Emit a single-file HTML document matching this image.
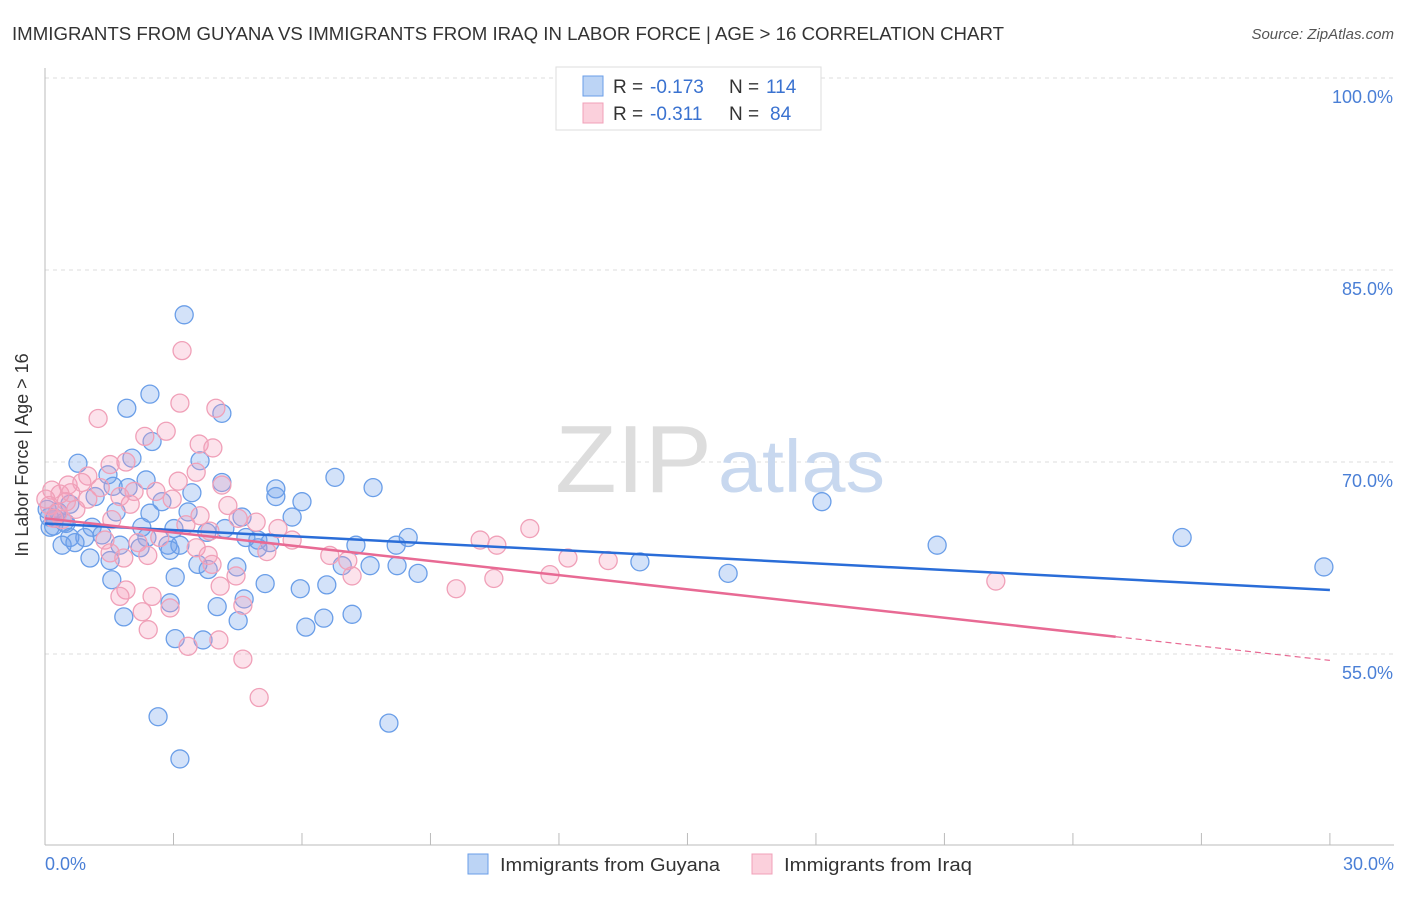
<!DOCTYPE html>
<html><head><meta charset="utf-8"><style>
body{margin:0;background:#fff;font-family:"Liberation Sans",sans-serif;}
svg text{font-family:"Liberation Sans",sans-serif;}
</style></head><body>
<svg width="1406" height="892" xmlns="http://www.w3.org/2000/svg">
<text x="12" y="40" font-size="18" fill="#333" textLength="992" lengthAdjust="spacingAndGlyphs">IMMIGRANTS FROM GUYANA VS IMMIGRANTS FROM IRAQ IN LABOR FORCE | AGE &gt; 16 CORRELATION CHART</text>
<text x="1394" y="39" font-size="15" fill="#555" font-style="italic" text-anchor="end">Source: ZipAtlas.com</text>
<g id="grid"></g>
<g id="axes"></g>
<text x="555" y="492" font-size="96" fill="#ddd" font-family="Liberation Serif" textLength="157" lengthAdjust="spacingAndGlyphs">ZIP</text>
<text x="718" y="492" font-size="74" fill="#c8d8ef" textLength="167" lengthAdjust="spacingAndGlyphs">atlas</text>
<g id="pts"></g>
<g id="trend"></g>
<text x="28" y="455" font-size="18" fill="#333" text-anchor="middle" transform="rotate(-90 28 455)">In Labor Force | Age &gt; 16</text>
<text x="45" y="870" font-size="18" fill="#4a7fd6">0.0%</text>
<text x="1394" y="870" font-size="18" fill="#4a7fd6" text-anchor="end">30.0%</text>
<g>
<rect x="556" y="67" width="265" height="63" fill="#fff" stroke="#ddd"/>
<rect x="583" y="76" width="20" height="20" fill="#bcd4f5" stroke="#6a9ee8"/>
<rect x="583" y="103" width="20" height="20" fill="#fbd0dc" stroke="#f0a0b8"/>
<text x="613" y="93" font-size="19" fill="#333">R =</text>
<text x="650" y="93" font-size="19" fill="#3a72d0">-0.173</text>
<text x="729" y="93" font-size="19" fill="#333">N =</text>
<text x="766" y="93" font-size="19" fill="#3a72d0">114</text>
<text x="613" y="120" font-size="19" fill="#333">R =</text>
<text x="650" y="120" font-size="19" fill="#3a72d0">-0.311</text>
<text x="729" y="120" font-size="19" fill="#333">N =</text>
<text x="770" y="120" font-size="19" fill="#3a72d0">84</text>
</g>
<g>
<rect x="468" y="854" width="20" height="20" fill="#bcd4f5" stroke="#6a9ee8"/>
<text x="500" y="871" font-size="18" fill="#333" textLength="220" lengthAdjust="spacingAndGlyphs">Immigrants from Guyana</text>
<rect x="752" y="854" width="20" height="20" fill="#fbd0dc" stroke="#f0a0b8"/>
<text x="784" y="871" font-size="18" fill="#333" textLength="188" lengthAdjust="spacingAndGlyphs">Immigrants from Iraq</text>
</g>
</svg>
<script>
const yTicks=[100,85,70,55];
const xTicks=[0,3,6,9,12,15,18,21,24,27,30];
const guyanaX=[3.25,2.45,1.91,4.13,2.5,0.77,3.62,2.03,1.47,2.36,4.13,6.77,7.66,5.39,3.43,1.94,1.59,1.17,5.39,6.0,2.73,18.14,0.58,1.66,3.34,5.77,4.6,2.45,0.23,0.49,1.1,2.26,4.2,3.01,3.78,0.12,1.33,0.58,0.93,2.38,4.69,4.97,5.25,8.48,0.4,0.7,1.75,2.22,2.87,3.15,7.26,8.2,26.55,20.83,4.97,2.92,1.05,1.52,3.57,13.89,6.94,7.59,8.22,8.71,3.81,4.48,15.95,29.86,3.04,1.56,5.14,6.58,5.96,4.65,2.92,4.02,1.84,7.17,6.51,4.51,6.09,3.04,3.69,2.64,8.03,3.15,0.1,0.3,0.45,0.2,0.05];
const guyanaY=[81.5,75.3,74.2,73.8,71.6,69.9,70.1,70.3,69.0,68.6,68.4,68.8,68.0,67.9,67.6,68.0,68.1,67.3,67.3,66.9,66.9,66.9,66.7,66.1,66.1,65.7,65.7,66.0,65.6,65.2,64.9,64.9,64.8,64.8,64.5,64.9,64.3,64.1,64.1,64.1,64.1,63.9,63.7,64.1,63.5,63.7,63.5,63.3,63.5,63.5,63.5,63.5,64.1,63.5,63.3,63.1,62.5,62.3,62.0,62.2,61.9,61.9,61.9,61.3,61.6,61.8,61.3,61.8,61.0,60.8,60.5,60.4,60.1,59.3,59.0,58.7,57.9,58.1,57.8,57.6,57.1,56.2,56.1,50.1,49.6,46.8,65.7,66.1,65.3,65.0,66.3];
const iraqX=[3.2,1.24,3.15,3.99,2.33,2.83,3.6,3.92,1.89,1.52,3.53,1.0,3.11,4.13,0.54,0.86,0.16,1.29,2.59,2.08,0.35,1.75,2.97,1.0,0.02,1.99,4.27,0.72,3.62,4.51,4.93,11.32,0.4,1.56,3.29,5.44,3.85,2.68,10.16,10.55,5.77,2.17,1.4,3.53,5.18,1.52,3.81,6.65,1.84,2.4,7.07,12.21,13.15,3.9,4.46,7.17,10.48,11.79,4.09,1.89,9.6,22.2,1.75,2.5,2.92,4.62,2.27,2.41,3.34,4.06,4.62,5.0,0.1,0.3,0.2,0.5,0.6];
const iraqY=[78.7,73.4,74.6,74.2,72.0,72.4,71.4,71.1,70.0,69.8,69.2,68.9,68.5,68.2,68.2,68.4,67.8,68.0,67.7,67.7,67.5,67.3,67.1,67.1,67.1,66.7,66.6,66.3,65.8,65.6,65.3,64.8,65.5,65.5,65.1,64.8,64.6,64.1,63.9,63.5,63.9,63.7,63.9,63.3,63.0,62.9,62.7,62.7,62.5,62.7,62.3,62.5,62.3,62.0,61.1,61.1,60.9,61.2,60.3,60.0,60.1,60.7,59.5,59.5,58.6,58.8,58.3,56.9,55.6,56.1,54.6,51.6,66.6,66.0,65.6,66.9,67.6];
const guyanaTrend=[65.2,60.0];
const iraqTrend=[65.6,54.5];
const iraqSolidEnd=25;
const NS="http://www.w3.org/2000/svg";
const X=v=>45+v*42.83, Y=v=>78+(100-v)*12.8;
function mk(t,a,p){const e=document.createElementNS(NS,t);for(const k in a)e.setAttribute(k,a[k]);p.appendChild(e);return e;}
const grid=document.getElementById('grid'),axes=document.getElementById('axes');
yTicks.forEach(t=>{
 const l=mk('line',{x1:45,x2:1394,y1:Y(t),y2:Y(t),stroke:'#ddd','stroke-dasharray':'4,4'},grid);
 
 
 const tx=mk('text',{x:1393,y:Y(t)+25,'font-size':18,fill:'#4a7fd6','text-anchor':'end'},grid);
 tx.textContent=t.toFixed(1)+'%';
 
 
});
mk('line',{x1:45,x2:45,y1:68,y2:845,stroke:'#bbb'},axes);
mk('line',{x1:45,x2:1394,y1:845,y2:845,stroke:'#bbb'},axes);
xTicks.forEach(t=>{
 const l=mk('line',{x1:X(t),x2:X(t),y1:833,y2:845,stroke:'#bbb'},axes);
 
 
});
const pts=document.getElementById('pts');
guyanaX.forEach((x,i)=>{
 const c=mk('circle',{cx:X(x),cy:Y(guyanaY[i]),r:9,fill:'rgba(110,160,235,0.3)',stroke:'#6a9ee8','stroke-width':1.3},pts);
 
 
});
iraqX.forEach((x,i)=>{
 const c=mk('circle',{cx:X(x),cy:Y(iraqY[i]),r:9,fill:'rgba(245,160,190,0.3)',stroke:'#f0a0b8','stroke-width':1.3},pts);
 
 
});
const tr=document.getElementById('trend');
const g=mk('line',{x1:X(0),y1:Y(guyanaTrend[0]),x2:X(30),y2:Y(guyanaTrend[1]),stroke:'#2a6dd8','stroke-width':2.5},tr);


const iy=x=>iraqTrend[0]+(iraqTrend[1]-iraqTrend[0])*x/30;
const p1=mk('line',{x1:X(0),y1:Y(iy(0)),x2:X(iraqSolidEnd),y2:Y(iy(iraqSolidEnd)),stroke:'#e86a94','stroke-width':2.5},tr);


const p2=mk('line',{x1:X(iraqSolidEnd),y1:Y(iy(iraqSolidEnd)),x2:X(30),y2:Y(iy(30)),stroke:'#e86a94','stroke-width':1.2,'stroke-dasharray':'6,4'},tr);


</script>
</body></html>
